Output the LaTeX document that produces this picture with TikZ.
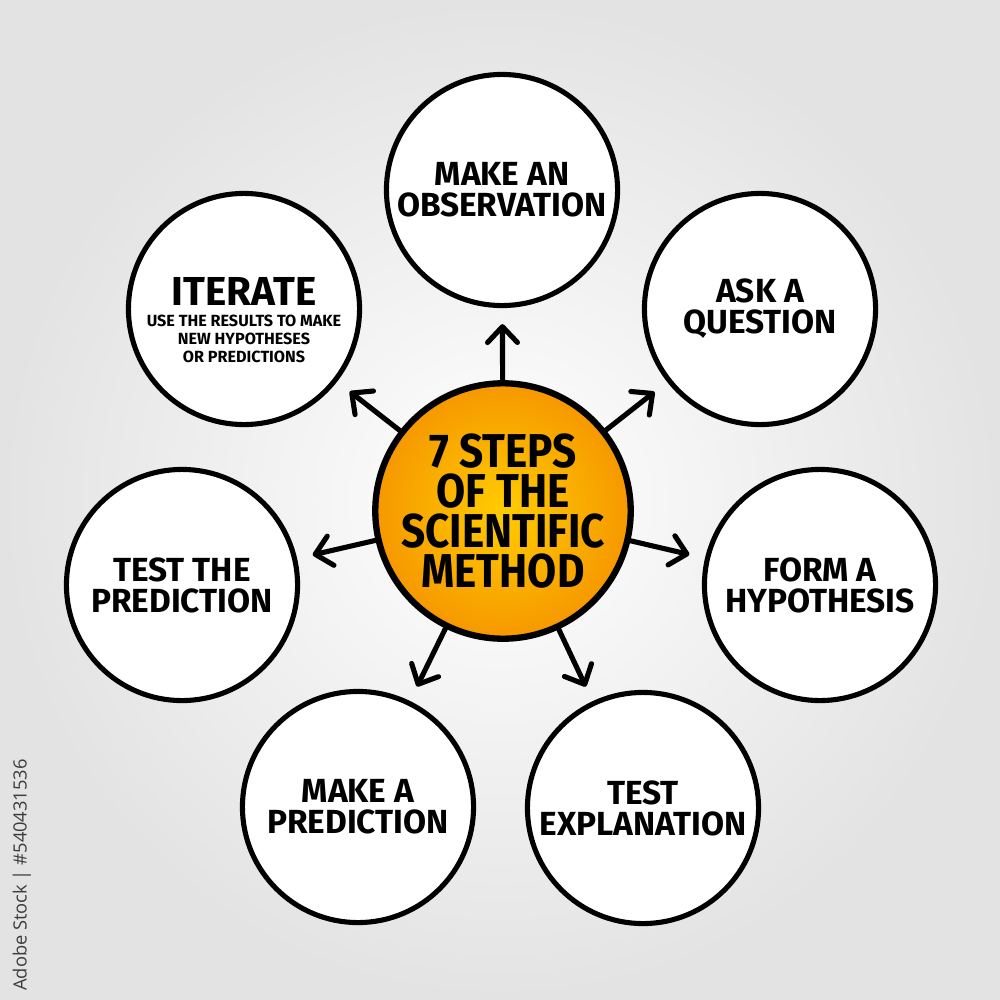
\documentclass[tikz,border=0pt]{standalone}
\usepackage{fontspec}
\setmainfont{Fira Sans}
\newfontfamily\hand{Fira Sans}
\newfontfamily\handc{Fira Sans}[FakeStretch=0.89]
\newfontfamily\wmfont{Open Sans}
\usetikzlibrary{arrows.meta}
\definecolor{hubin}{RGB}{255,204,0}
\definecolor{hubout}{RGB}{246,152,0}
\definecolor{wmgray}{RGB}{60,60,60}
\begin{document}
\begin{tikzpicture}[x=0.01cm,y=-0.01cm,
  bubble/.style={circle, draw=black, line width=1.45pt, fill=white,
    minimum size=2.31cm, inner sep=0pt, align=center,
    font=\hand\bfseries\fontsize{9.5}{8.8}\selectfont},
  hub/.style={circle, draw=black, line width=1.8pt, minimum size=2.54cm,
    inner sep=0pt, align=center, shading=radial, inner color=hubin, outer color=hubout,
    font=\handc\bfseries\fontsize{13.5}{11.4}\selectfont},
  arr/.style={line width=1.45pt, line cap=round,
    -{Straight Barb[length=4.5pt,width=8.5pt,line cap=round,line join=round]},
    shorten >=0.16cm}
]
\shade[inner color=white, outer color=black!11] (0,0) rectangle (1000,1000);
\useasboundingbox (0,0) rectangle (1000,1000);

\node[hub] (c) at (503,511) {7 STEPS\\OF THE\\SCIENTIFIC\\METHOD};

\node[bubble] (obs) at (502,190) {MAKE AN\\OBSERVATION};
\node[bubble] (ask) at (760,309) {ASK A\\QUESTION};
\node[bubble] (hyp) at (820,585) {FORM A\\HYPOTHESIS};
\node[bubble] (expl) at (643,808) {TEST\\EXPLANATION};
\node[bubble] (pred) at (358,807) {MAKE A\\PREDICTION};
\node[bubble] (tpred) at (182,585) {TEST THE\\PREDICTION};
\node[bubble] (iter) at (244,309) {};
\node[align=center, inner sep=0pt, font=\hand\bfseries\fontsize{4.6}{5}\selectfont] (itertxt) at (244,320)
  {{\fontsize{11.5}{12}\selectfont ITERATE}\\[1pt]
   USE THE RESULTS TO MAKE\\NEW HYPOTHESES\\OR PREDICTIONS};

\draw[arr] (c) -- (obs);
\draw[arr] (c) -- (ask);
\draw[arr] (c) -- (hyp);
\draw[arr] (c) -- (expl);
\draw[arr] (c) -- (pred);
\draw[arr] (c) -- (tpred);
\draw[arr] (c) -- (iter);

\node[rotate=90, text=wmgray, font=\wmfont\fontsize{5.2}{6}\selectfont] (wm) at (22,875) {Adobe Stock | \#540431536};
\end{tikzpicture}
\end{document}
